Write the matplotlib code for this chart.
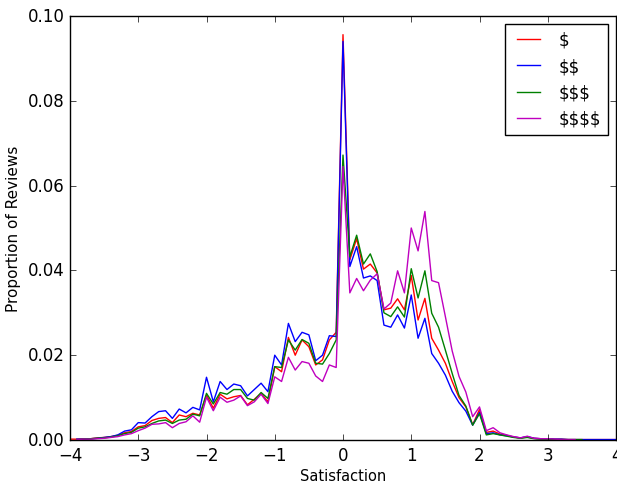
import numpy as np
import matplotlib
matplotlib.use("Agg")
import matplotlib.pyplot as plt

plt.style.use("classic")

nan = np.nan
x = np.round(np.arange(-4.0, 4.01, 0.1), 1)

# values, x = -4.0 ... 4.0 step 0.1
s1 = [0.0002, 0.0002, 0.0003, 0.0003, 0.0005, 0.0006, 0.0008, 0.0011, 0.0017, 0.0020,
      0.0031, 0.0034, 0.0046, 0.0051, 0.0053, 0.0041, 0.0059, 0.0055, 0.0063, 0.0059,
      0.0106, 0.0075, 0.0108, 0.0097, 0.0102, 0.0105, 0.0083, 0.0096, 0.0110, 0.0090,
      0.0173, 0.0161, 0.0242, 0.0200, 0.0236, 0.0220, 0.0177, 0.0189, 0.0236, 0.0254,
      0.0956, 0.0425, 0.0475, 0.0403, 0.0415, 0.0394, 0.0307, 0.0311, 0.0333, 0.0307,
      0.0388, 0.0283, 0.0334, 0.0240, 0.0212, 0.0181, 0.0138, 0.0100, 0.0078, 0.0036,
      0.0072, 0.0018, 0.0021, 0.0014, 0.0011, 0.0007, 0.0005, 0.0007, 0.0004, 0.0003,
      0.0003, 0.0002, 0.0002, 0.0001, 0.0001, 0.0001, 0.0001, 0.0001, 0.0001, 0.0001, 0.0001]
s2 = [nan, 0.0002, 0.0002, 0.0003, 0.0004, 0.0006, 0.0008, 0.0012, 0.0021, 0.0024,
      0.0041, 0.0040, 0.0055, 0.0067, 0.0069, 0.0051, 0.0073, 0.0064, 0.0077, 0.0071,
      0.0148, 0.0090, 0.0138, 0.0119, 0.0132, 0.0128, 0.0104, 0.0119, 0.0134, 0.0114,
      0.0200, 0.0177, 0.0275, 0.0232, 0.0254, 0.0248, 0.0187, 0.0200, 0.0246, 0.0244,
      0.0940, 0.0409, 0.0456, 0.0382, 0.0387, 0.0376, 0.0271, 0.0266, 0.0295, 0.0264,
      0.0342, 0.0240, 0.0287, 0.0204, 0.0181, 0.0153, 0.0115, 0.0088, 0.0068, 0.0035,
      0.0065, 0.0015, 0.0017, 0.0012, 0.0010, 0.0007, 0.0005, 0.0008, 0.0004, 0.0003,
      0.0003, 0.0002, 0.0002, 0.0001, 0.0001, 0.0001, 0.0001, 0.0001, 0.0001, 0.0001, 0.0001]
s3 = [nan, 0.0001, 0.0002, 0.0003, 0.0004, 0.0005, 0.0007, 0.0010, 0.0015, 0.0018,
      0.0028, 0.0031, 0.0039, 0.0045, 0.0047, 0.0039, 0.0047, 0.0049, 0.0061, 0.0057,
      0.0110, 0.0085, 0.0112, 0.0108, 0.0119, 0.0119, 0.0098, 0.0094, 0.0112, 0.0098,
      0.0173, 0.0171, 0.0236, 0.0212, 0.0237, 0.0228, 0.0181, 0.0179, 0.0204, 0.0236,
      0.0672, 0.0432, 0.0483, 0.0415, 0.0439, 0.0397, 0.0300, 0.0291, 0.0314, 0.0290,
      0.0404, 0.0335, 0.0399, 0.0299, 0.0266, 0.0212, 0.0157, 0.0105, 0.0080, 0.0035,
      0.0062, 0.0012, 0.0015, 0.0012, 0.0009, 0.0006, 0.0004, 0.0006, 0.0003, 0.0002,
      0.0002, 0.0001, 0.0001, 0.0001, 0.0001, 0.0001, nan, nan, nan, nan, nan]
s4 = [nan, 0.0001, 0.0002, 0.0002, 0.0003, 0.0004, 0.0006, 0.0008, 0.0012, 0.0015,
      0.0022, 0.0028, 0.0037, 0.0038, 0.0041, 0.0029, 0.0039, 0.0043, 0.0057, 0.0042,
      0.0101, 0.0069, 0.0101, 0.0089, 0.0094, 0.0104, 0.0081, 0.0090, 0.0108, 0.0086,
      0.0149, 0.0138, 0.0195, 0.0165, 0.0185, 0.0181, 0.0151, 0.0138, 0.0177, 0.0171,
      0.0645, 0.0347, 0.0381, 0.0352, 0.0377, 0.0392, 0.0309, 0.0323, 0.0399, 0.0347,
      0.0500, 0.0446, 0.0539, 0.0376, 0.0371, 0.0291, 0.0210, 0.0150, 0.0113, 0.0055,
      0.0078, 0.0022, 0.0029, 0.0017, 0.0012, 0.0008, 0.0005, 0.0009, 0.0004, 0.0003,
      0.0003, 0.0002, 0.0001, 0.0001, 0.0001, nan, nan, nan, nan, nan, nan]

labels = ["$", "$$", "$$$", "$$$$"]
colors = ["r", "b", "g", "m"]

fig = plt.figure(figsize=(6.17, 4.85), dpi=100, facecolor="white")
ax = fig.add_axes([70 / 617, 44 / 485, 546 / 617, 424 / 485])
for s, lab, c in zip([s1, s2, s3, s4], labels, colors):
    ax.plot(x, s, color=c, label=lab.replace("$", r"\$"), lw=1)

ax.set_xlim(-4, 4)
ax.set_ylim(0, 0.10)
ax.set_yticks([0.00, 0.02, 0.04, 0.06, 0.08, 0.10])
ax.set_yticklabels(["0.00", "0.02", "0.04", "0.06", "0.08", "0.10"])
ax.set_xlabel("Satisfaction", fontsize=10.5, labelpad=3)
ax.set_ylabel("Proportion of Reviews", fontsize=11)
ax.legend(loc="upper right", fontsize=12)
fig.savefig("out.png", dpi=100, facecolor="white")
